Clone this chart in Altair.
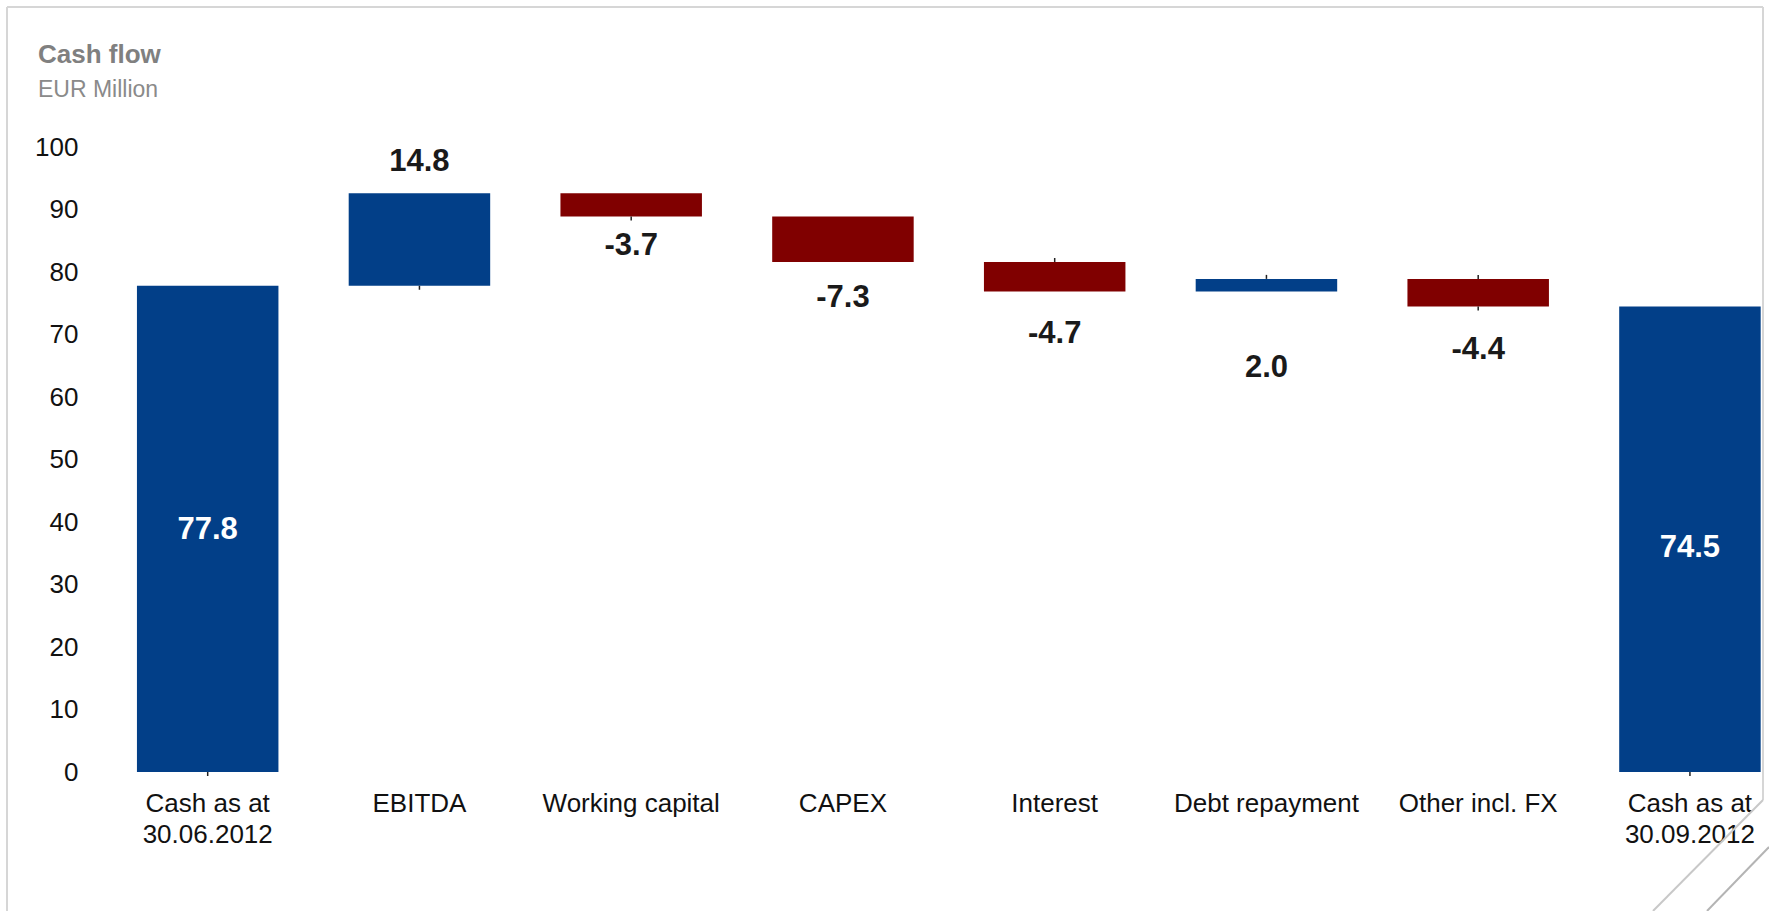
import altair as alt
import pandas as pd

# ---- data ----
categories = ["Cash as at\n30.06.2012", "EBITDA", "Working capital", "CAPEX",
              "Interest", "Debt repayment", "Other incl. FX", "Cash as at\n30.09.2012"]
values = [77.8, 14.8, -3.7, -7.3, -4.7, 2.0, -4.4, 74.5]
kinds = ["total", "delta", "delta", "delta", "delta", "delta", "delta", "total"]
label_text = ["77.8", "14.8", "-3.7", "-7.3", "-4.7", "2.0", "-4.4", "74.5"]
label_y = [38.7, 97.6, 84.1, 75.9, 70.1, 64.6, 67.6, 35.9]
y_ticks = [0, 10, 20, 30, 40, 50, 60, 70, 80, 90, 100]

# small connector ticks at bar ends
tick_cats = ["Cash as at\n30.06.2012", "EBITDA", "Working capital", "Interest",
             "Debt repayment", "Other incl. FX", "Other incl. FX", "Cash as at\n30.09.2012"]
tick_vals = [0, 77.8, 88.9, 81.6, 78.9, 78.9, 74.5, 0]
tick_dir = ["down", "down", "down", "up", "up", "up", "down", "down"]

title_text = "Cash flow"
subtitle_text = "EUR Million"

# ---- build table ----
rows = []
running = 0.0
for c, v, k, lt, ly in zip(categories, values, kinds, label_text, label_y):
    if k == "total":
        start, end = 0.0, v
    else:
        start, end = running, running + v
    running = end
    sign = "total" if k == "total" else ("up" if v >= 0 else "down")
    rows.append(dict(cat=c, start=start, end=end, sign=sign, label=lt, ly=ly, kind=k))
df = pd.DataFrame(rows)
ticks_df = pd.DataFrame(dict(cat=tick_cats, ty=tick_vals, dir=tick_dir))

BLUE = "#023F88"
RED = "#800000"
FONT = "Liberation Sans"

PW, PH = 1684, 625
PL, PT = 85, 147

x_enc = alt.X("cat:N", sort=categories,
              scale=alt.Scale(paddingInner=0.3318, paddingOuter=0.1423, align=0.862, round=False),
              axis=alt.Axis(title=None, labelAngle=0, domain=False, ticks=False, tickSize=0,
                            labelFont=FONT, labelFontSize=26, labelColor="#111111",
                            labelPadding=18, labelLineHeight=31, labelBaseline="top",
                            labelLimit=0, labelOverlap=False,
                            labelExpr="split(datum.label, '\\n')"))
y_scale = alt.Scale(domain=[0, 100], nice=False)

base = alt.Chart(df)

bars = base.mark_bar().encode(
    x=x_enc,
    y=alt.Y("start:Q", scale=y_scale,
            axis=alt.Axis(title=None, values=y_ticks, grid=False, domain=False, ticks=False,
                          tickSize=0, labelFont=FONT, labelFontSize=26, labelColor="#111111",
                          labelPadding=7)),
    y2="end:Q",
    color=alt.Color("sign:N", scale=alt.Scale(domain=["total", "up", "down"],
                                              range=[BLUE, BLUE, RED]), legend=None),
)

labels = base.mark_text(font=FONT, fontSize=31, fontWeight="bold", baseline="middle",
                        align="center").encode(
    x=alt.X("cat:N", sort=categories),
    y=alt.Y("ly:Q", scale=y_scale),
    text="label:N",
    color=alt.condition(alt.datum.kind == "total", alt.value("#ffffff"), alt.value("#1a1a1a")),
)

tick_base = alt.Chart(ticks_df)
ticks_down = tick_base.transform_filter(alt.datum.dir == "down").mark_rule(
    color="#222222", strokeWidth=1.5, y2Offset=4).encode(
    x=alt.X("cat:N", sort=categories), y=alt.Y("ty:Q", scale=y_scale), y2="ty:Q")
ticks_up = tick_base.transform_filter(alt.datum.dir == "up").mark_rule(
    color="#222222", strokeWidth=1.5, y2Offset=-4).encode(
    x=alt.X("cat:N", sort=categories), y=alt.Y("ty:Q", scale=y_scale), y2="ty:Q")

one = pd.DataFrame({"t": [title_text], "s": [subtitle_text]})
title_mark = alt.Chart(one).mark_text(font=FONT, fontSize=26, fontWeight="bold", color="#808080",
                                      align="left", baseline="alphabetic").encode(
    text="t:N", x=alt.value(38 - PL), y=alt.value(63 - PT))
subtitle_mark = alt.Chart(one).mark_text(font=FONT, fontSize=23, color="#8a8a8a",
                                         align="left", baseline="alphabetic").encode(
    text="s:N", x=alt.value(38 - PL), y=alt.value(97 - PT))

FRAME = "#d6d6d6"
def seg(x1, y1, x2, y2, color=FRAME, w=2):
    return alt.Chart(one).mark_rule(color=color, strokeWidth=w).encode(
        x=alt.value(x1 - PL), y=alt.value(y1 - PT), x2=alt.value(x2 - PL), y2=alt.value(y2 - PT))

frame = [
    seg(7, 7, 7, 911),
    seg(7, 7, 1763, 7),
    seg(1763, 7, 1763, 800),
    seg(1763, 800, 1653, 911, color="#c8c8c8"),
    seg(1769, 847, 1707, 911, color="#b4b4b4"),
]

chart = alt.layer(*frame, bars, ticks_down, ticks_up, labels, title_mark, subtitle_mark).properties(
    width=PW, height=PH,
    padding={"left": PL, "top": PT, "right": 0, "bottom": 911 - PT - PH},
    autosize=alt.AutoSizeParams(type="none"),
    background="#ffffff",
).configure_view(stroke=None)

chart.save("out.html", embed_options={"renderer": "svg", "actions": False})
